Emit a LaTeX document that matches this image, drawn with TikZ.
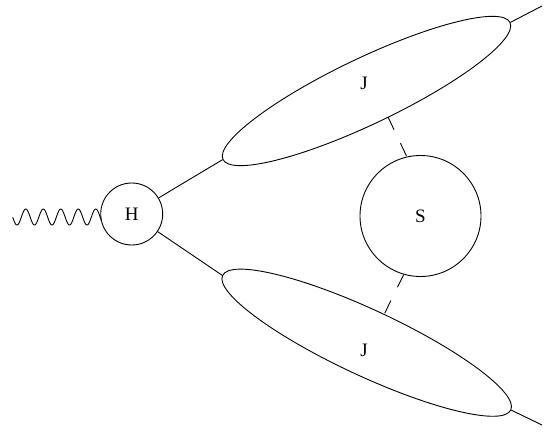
\documentclass[tikz,border=0pt]{standalone}
\usepackage{fontspec}
\setmainfont{Liberation Serif}
\usetikzlibrary{shapes.geometric}

\begin{document}
\begin{tikzpicture}[
        x=1pt, y=-1pt,
        line width=0.9pt,
        blob/.style={circle, draw, inner sep=0pt, font=\fontsize{19}{21}\selectfont},
        jet/.style={ellipse, draw, inner sep=0pt, minimum width=318pt, minimum height=66pt},
        lab/.style={inner sep=0pt, font=\fontsize{19}{21}\selectfont},
        soft/.style={dash pattern=on 14pt off 15pt},
    ]
        \useasboundingbox (0,0) rectangle (554,433);

        % Blobs
        \node[blob, minimum size=62pt] (h) at (131.7,214) {H};
        \node[blob, minimum size=121pt] (s) at (420.5,216) {S};

        % Jets
        \node[jet, rotate=25.5] (jup) at (366.5,91) {};
        \node[jet, rotate=-25] (jdown) at (366.7,342.7) {};
        \node[lab] (lup) at (364,83) {J};
        \node[lab] (ldown) at (364,350) {J};

        % Outgoing ends
        \coordinate (endup) at (542,6);
        \coordinate (enddown) at (542,425);
        \coordinate (gup) at (388,117);
        \coordinate (gdown) at (384.3,314);

        % Photon
        \draw plot[domain=12.7:101.5, samples=150, smooth] (\x, {217+8*cos(20.5714*(\x-17))});

        % Lines
        \draw (h) -- (jup.west);
        \draw (h) -- (jdown.west);
        \draw (jup.east) -- (endup);
        \draw (jdown.east) -- (enddown);

        % Soft exchange
        \draw[soft] (gup) -- (s.103.6);
        \draw[soft] (s.254.6) -- (gdown);
    \end{tikzpicture}
\end{document}
